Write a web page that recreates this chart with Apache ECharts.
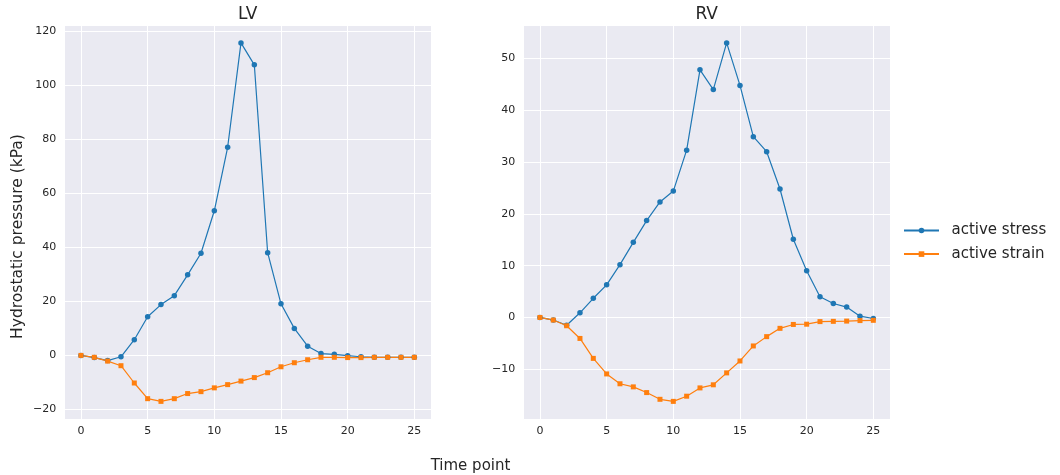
<!DOCTYPE html>
<html>
<head>
<meta charset="utf-8">
<script src="https://cdn.jsdelivr.net/npm/echarts@6/dist/echarts.min.js"></script>
<style>
  html, body { margin: 0; padding: 0; background: #ffffff; }
  #chart { width: 1060px; height: 475px; }
</style>
</head>
<body>
<div id="chart"></div>
<script>
// ---- data ----
const timePoints = [0, 1, 2, 3, 4, 5, 6, 7, 8, 9, 10, 11, 12, 13, 14, 15, 16, 17, 18, 19, 20, 21, 22, 23, 24, 25];

const lvActiveStress = [0, -0.8, -1.9, -0.5, 5.8, 14.3, 18.8, 22.1, 29.8, 37.8, 53.5, 77.0, 115.6, 107.5, 38.0, 19.1, 10.0, 3.4, 0.7, 0.4, -0.1, -0.5, -0.7, -0.7, -0.7, -0.7];
const lvActiveStrain = [0, -0.7, -2.1, -3.8, -10.2, -16.0, -17.0, -16.0, -14.1, -13.4, -12.0, -10.8, -9.5, -8.2, -6.4, -4.2, -2.7, -1.6, -0.7, -0.7, -0.8, -0.8, -0.7, -0.7, -0.7, -0.7];

const rvActiveStress = [0, -0.5, -1.5, 0.9, 3.7, 6.3, 10.2, 14.5, 18.7, 22.3, 24.4, 32.3, 47.8, 44.0, 53.0, 44.8, 34.9, 32.0, 24.8, 15.1, 9.0, 4.0, 2.7, 2.0, 0.25, -0.2];
const rvActiveStrain = [0, -0.5, -1.6, -4.05, -7.9, -10.9, -12.8, -13.4, -14.5, -15.8, -16.2, -15.2, -13.6, -13.0, -10.7, -8.4, -5.5, -3.7, -2.1, -1.35, -1.3, -0.8, -0.75, -0.7, -0.6, -0.55];

const panelTitles = ['LV', 'RV'];
const seriesNames = ['active stress', 'active strain'];
const yLabel = 'Hydrostatic pressure (kPa)';
const xLabel = 'Time point';

// ---- helpers ----
const pairs = (xs, ys) => xs.map((x, i) => [x, ys[i]]);
function paddedRange(arrs, frac) {
  const all = [].concat(...arrs);
  const lo = Math.min(...all), hi = Math.max(...all);
  const pad = (hi - lo) * frac;
  return [lo - pad, hi + pad];
}
const xRange = paddedRange([timePoints], 0.05);
const lvRange = paddedRange([lvActiveStress, lvActiveStrain], 0.05);
const rvRange = paddedRange([rvActiveStress, rvActiveStrain], 0.05);

const FONT = 'DejaVu Sans';
const TEXT = '#262626';
const BLUE = '#1f77b4';
const ORANGE = '#ff7f0e';
const fmt = v => String(v).replace('-', '\u2212');

function xAxisFor(gi) {
  return {
    type: 'value', gridIndex: gi,
    min: xRange[0], max: xRange[1],
    splitNumber: 5, minInterval: 5, maxInterval: 5,
    axisLine: { show: false }, axisTick: { show: false },
    splitLine: { show: true, lineStyle: { color: '#ffffff', width: 1 } },
    axisLabel: { showMinLabel: false, showMaxLabel: false, margin: 6,
      color: TEXT, fontFamily: FONT, fontSize: 11, formatter: fmt }
  };
}
function yAxisFor(gi, range, step) {
  return {
    type: 'value', gridIndex: gi,
    min: range[0], max: range[1],
    splitNumber: 7, minInterval: step, maxInterval: step,
    axisLine: { show: false }, axisTick: { show: false },
    splitLine: { show: true, lineStyle: { color: '#ffffff', width: 1 } },
    axisLabel: { showMinLabel: false, showMaxLabel: false, margin: 8,
      color: TEXT, fontFamily: FONT, fontSize: 11, formatter: fmt }
  };
}
function lineSeries(name, gi, ys, color, symbol) {
  return {
    name: name, type: 'line', xAxisIndex: gi, yAxisIndex: gi,
    data: pairs(timePoints, ys),
    symbol: symbol, symbolSize: symbol === 'rect' ? 5 : 5.5,
    showAllSymbol: true,
    lineStyle: { color: color, width: 1.2 },
    itemStyle: { color: color },
    emphasis: { disabled: true },
    animation: false
  };
}

const chart = echarts.init(document.getElementById('chart'), null, { renderer: 'canvas' });
chart.setOption({
  animation: false,
  backgroundColor: '#ffffff',
  textStyle: { fontFamily: FONT },
  grid: [
    { left: 64.3, top: 25, width: 366.7, height: 394.3, show: true, backgroundColor: '#EAEAF2', borderWidth: 0 },
    { left: 523.3, top: 25, width: 366.7, height: 394.3, show: true, backgroundColor: '#EAEAF2', borderWidth: 0 }
  ],
  title: [
    { text: panelTitles[0], left: 247.7, top: 6.5, textAlign: 'center', padding: 0,
      textStyle: { fontFamily: FONT, fontSize: 17, fontWeight: 'normal', color: TEXT } },
    { text: panelTitles[1], left: 706.7, top: 6.5, textAlign: 'center', padding: 0,
      textStyle: { fontFamily: FONT, fontSize: 17, fontWeight: 'normal', color: TEXT } }
  ],
  legend: {
    data: seriesNames, orient: 'vertical', left: 903, top: 221.5, padding: 0,
    itemWidth: 35, itemHeight: 7, itemGap: 5.6,
    textStyle: { fontFamily: FONT, fontSize: 15, color: TEXT, lineHeight: 18, padding: [0, 0, 0, 7.5] },
    selectedMode: false
  },
  xAxis: [xAxisFor(0), xAxisFor(1)],
  yAxis: [yAxisFor(0, lvRange, 20), yAxisFor(1, rvRange, 10)],
  series: [
    lineSeries(seriesNames[0], 0, lvActiveStress, BLUE, 'circle'),
    lineSeries(seriesNames[1], 0, lvActiveStrain, ORANGE, 'rect'),
    lineSeries(seriesNames[0], 1, rvActiveStress, BLUE, 'circle'),
    lineSeries(seriesNames[1], 1, rvActiveStrain, ORANGE, 'rect')
  ],
  graphic: [
    { type: 'text', x: 17.5, y: 236.5, rotation: Math.PI / 2,
      style: { text: yLabel, fontFamily: FONT, fontSize: 15.5, fill: TEXT,
        textAlign: 'center', textVerticalAlign: 'middle' } },
    { type: 'text', x: 470.5, y: 466.5,
      style: { text: xLabel, fontFamily: FONT, fontSize: 15, fill: TEXT,
        textAlign: 'center', textVerticalAlign: 'middle' } }
  ]
});
</script>
</body>
</html>
